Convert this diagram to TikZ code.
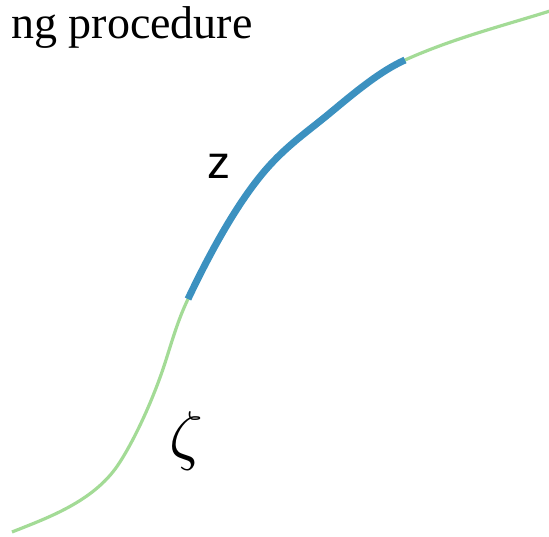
\documentclass[tikz,border=0pt]{standalone}
\usepackage{fontspec}
\setmainfont{Liberation Serif}
\newfontfamily\labsans{Liberation Sans}
\definecolor{curvegreen}{RGB}{163,219,150}
\definecolor{curveblue}{RGB}{60,145,192}
\tikzset{
  greenline/.style={draw=curvegreen, line width=3.2pt},
  blueline/.style={draw=curveblue, line width=7pt},
}
\begin{document}
\begin{tikzpicture}[x=1pt,y=-1pt]
\useasboundingbox (0,0) rectangle (549,536);
\clip (0,0) rectangle (549,536);
\node[anchor=base west, inner sep=0pt, font=\fontsize{46}{50}\selectfont] (title) at (11,38) {ng procedure};
\coordinate (p0) at (12,532);
\coordinate (p1) at (118,465);
\coordinate (p2) at (165,363);
\coordinate (p3) at (188,299);
\coordinate (p4) at (263,173);
\coordinate (p5) at (330,113);
\coordinate (p6) at (405,60);
\coordinate (p7) at (550,11);
\draw[greenline] (p0) .. controls (47,518) and (93,502) .. (p1)
  .. controls (134,441) and (153,400) .. (p2)
  .. controls (173,338) and (178,320) .. (p3)
  .. controls (213,246.5) and (238,203) .. (p4)
  .. controls (285,146.6) and (308,131.3) .. (p5)
  .. controls (355,92.25) and (380,71.25) .. (p6)
  .. controls (453,38.4) and (502,26) .. (p7);
\draw[blueline] (p3) .. controls (213,246.5) and (238,203) .. (p4)
  .. controls (285,146.6) and (308,131.3) .. (p5)
  .. controls (355,92.25) and (380,71.25) .. (p6);
\node[font=\labsans\fontsize{46}{50}\selectfont, inner sep=0pt] (zlab) at (219,166) {z};
\node[inner sep=0pt, scale=6.6] (zetalab) at (186,441) {$\zeta$};
\end{tikzpicture}
\end{document}
